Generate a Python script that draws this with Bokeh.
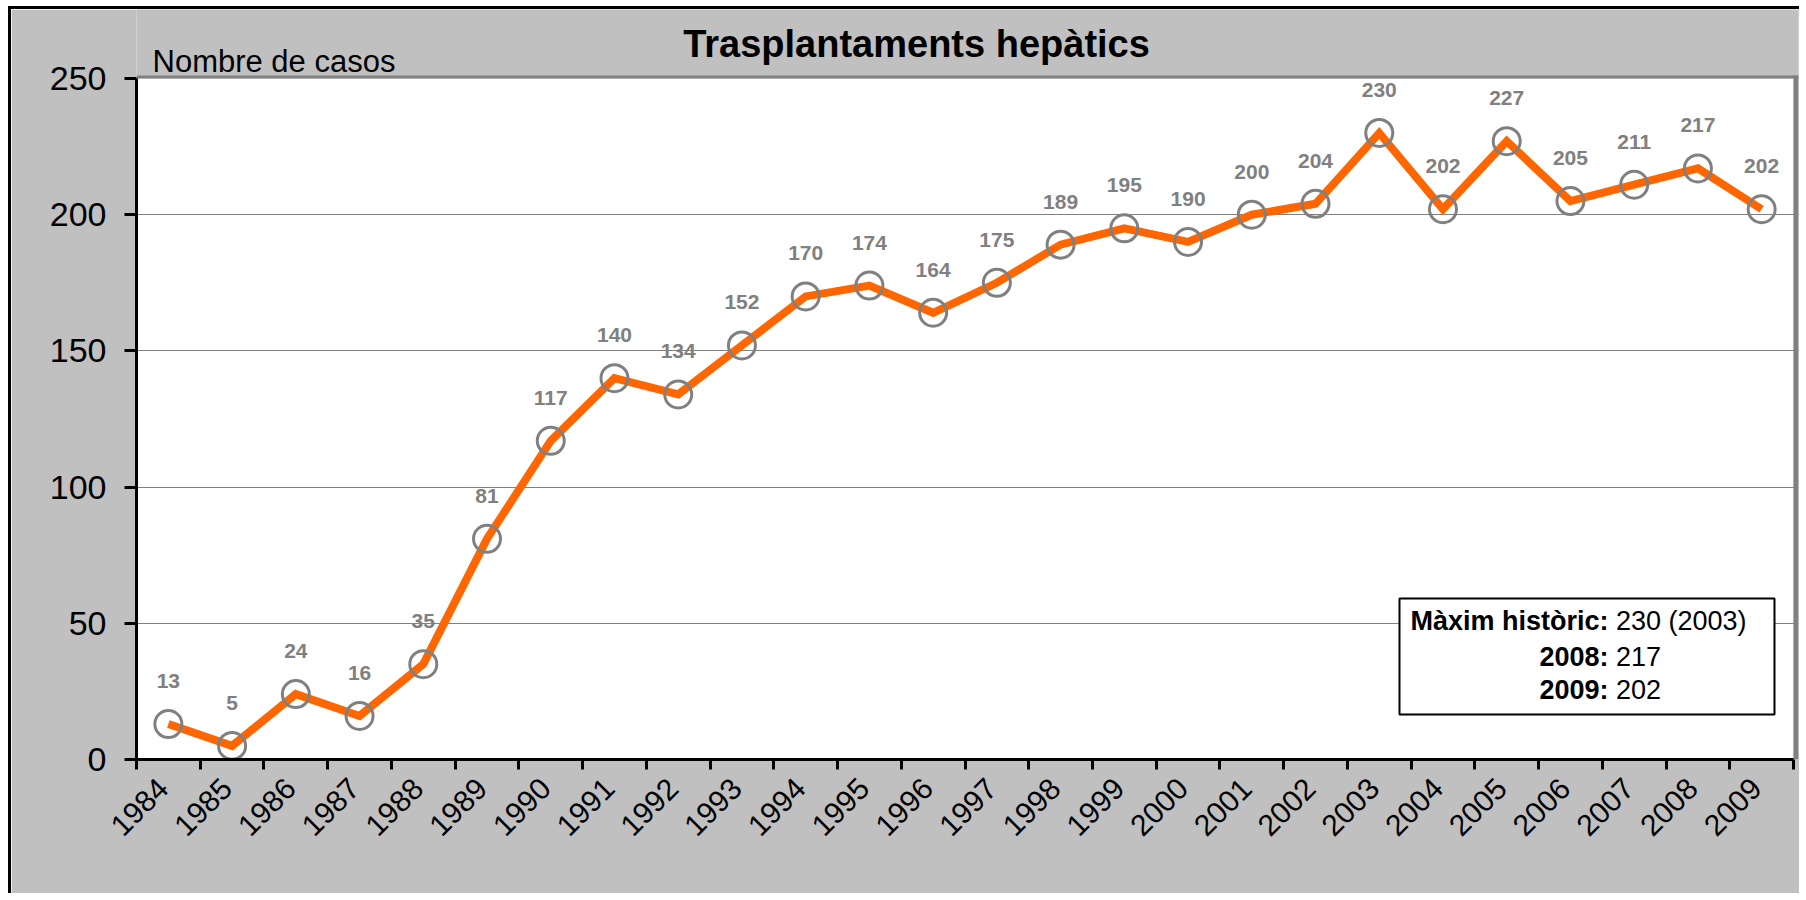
import math
from bokeh.plotting import figure
from bokeh.models import FixedTicker, Label, BoxAnnotation, ColumnDataSource, LinearAxis
from bokeh.core.properties import value
from bokeh.embed import file_html
from bokeh.resources import INLINE

# ---- data ----
years = [str(y) for y in range(1984, 2010)]
cases = [13, 5, 24, 16, 35, 81, 117, 140, 134, 152, 170, 174, 164, 175,
         189, 195, 190, 200, 204, 230, 202, 227, 205, 211, 217, 202]
y_ticks = [0, 50, 100, 150, 200, 250]
title_text = "Trasplantaments hepàtics"
y_title = "Nombre de casos"
note_bold = ["Màxim històric:", "2008:", "2009:"]
note_plain = ["230 (2003)", "217", "202"]

FONT = "Liberation Sans"
ORANGE = "#FF6600"
GREY = "#808080"
BG = "#C0C0C0"

OX, OY = 11, 9
W, H = 1791, 887
NCAT = len(years)
YMAX = 250
PL, PT, PR, PB = 136, 78, 1793, 759
PXU = (PR - PL) / NCAT
PYU = (PB - PT) / YMAX
BAND = 5
FRAME_R = PR + BAND
FRAME_T = OY


def px2x(px):
    return (px - PL) / PXU


def py2y(py):
    return (PB - py) / PYU


x_end = px2x(FRAME_R)
y_end = py2y(FRAME_T)

xs = [i + 0.5 for i in range(NCAT)]
src = ColumnDataSource(dict(x=xs, y=cases, label=[str(c) for c in cases]))

p = figure(width=W, height=H, x_range=(0, x_end), y_range=(0, y_end),
           output_backend="svg", toolbar_location=None,
           min_border_left=PL - OX, min_border_top=FRAME_T - OY,
           min_border_right=(OX + W) - FRAME_R,
           min_border_bottom=(OY + H) - PB,
           background_fill_color=BG, border_fill_color=BG,
           outline_line_color=None)
p.styles = {"margin-left": "8px", "margin-top": "6px",
            "border-left": "3px solid black", "border-top": "3px solid black"}

# white plot area with grey top/right edge
p.quad(left=[0], right=[NCAT], bottom=[0], top=[YMAX], fill_color="white",
       line_color=None, level="image")
p.quad(left=[NCAT], right=[x_end], bottom=[0], top=[py2y(PT - 3)],
       fill_color=GREY, line_color=None)
p.quad(left=[0], right=[x_end], bottom=[YMAX], top=[py2y(PT - 3)],
       fill_color=GREY, line_color=None)

# x axis: tick marks at category boundaries, labels on a second axis
xa = p.xaxis[0]
xa.ticker = FixedTicker(ticks=list(range(NCAT + 1)))
xa.major_label_overrides = {i: "" for i in range(NCAT + 1)}
xa.major_label_standoff = 0
xa.major_tick_out = 10
xa.bounds = (0, NCAT)

lab_ticks = [i + 0.42 for i in range(NCAT)]
xl = LinearAxis(ticker=FixedTicker(ticks=lab_ticks),
                major_label_overrides={t: y for t, y in zip(lab_ticks, years)},
                axis_line_color=None, major_tick_line_color=None,
                minor_tick_line_color=None, major_tick_out=0, major_tick_in=0,
                major_label_orientation=math.pi / 4, major_label_standoff=14,
                major_label_text_font=FONT, major_label_text_font_size="30px",
                major_label_text_color="black")
p.add_layout(xl, "below")

ya = p.yaxis[0]
ya.ticker = FixedTicker(ticks=y_ticks)
ya.bounds = (0, YMAX)
for ax in (xa, ya):
    ax.axis_line_color = "black"
    ax.axis_line_width = 3
    ax.major_tick_line_color = "black"
    ax.major_tick_line_width = 3
    ax.major_tick_in = 0
    ax.minor_tick_line_color = None
    ax.major_label_text_font = FONT
    ax.major_label_text_color = "black"
ya.major_tick_out = 12
ya.major_label_text_font_size = "34px"
ya.major_label_standoff = 18

p.xgrid.grid_line_color = None
p.ygrid.ticker = FixedTicker(ticks=y_ticks[1:-1])
p.ygrid.grid_line_color = GREY
p.ygrid.grid_line_width = 1

# series
p.line("x", "y", source=src, line_color=ORANGE, line_width=8, line_join="miter")
p.scatter("x", "y", source=src, marker="circle", size=27, fill_color=None,
          line_color=GREY, line_width=3)
p.text("x", "y", text="label", source=src, y_offset=-43,
       text_align="center", text_baseline="middle",
       text_font=value(FONT), text_font_style="bold", text_font_size="21px",
       text_color=GREY)

# title and axis title (positions are text centres, page px)
p.add_layout(Label(x=px2x(916), y=py2y(43), text=title_text,
                   text_align="center", text_baseline="middle",
                   text_font=FONT, text_font_style="bold",
                   text_font_size="38px", text_color="black"))
p.add_layout(Label(x=px2x(152), y=py2y(61), text=y_title,
                   text_align="left", text_baseline="middle",
                   text_font=FONT, text_font_size="31px", text_color="black"))

# note box
p.add_layout(BoxAnnotation(left=px2x(1399), right=px2x(1774),
                           top=py2y(598), bottom=py2y(714),
                           fill_color="white", fill_alpha=1.0,
                           line_color="black", line_width=2, line_alpha=1.0))
split = 1608
NF = 27
space = 0.278 * NF
for b, t, mid in zip(note_bold, note_plain, [620.5, 656, 689]):
    p.add_layout(Label(x=px2x(split), y=py2y(mid), text=b,
                       text_align="right", text_baseline="middle",
                       text_font=FONT, text_font_style="bold",
                       text_font_size=f"{NF}px", text_color="black"))
    p.add_layout(Label(x=px2x(split + space), y=py2y(mid), text=t,
                       text_align="left", text_baseline="middle",
                       text_font=FONT, text_font_size=f"{NF}px",
                       text_color="black"))

open("out.html", "w").write(file_html(p, INLINE))
